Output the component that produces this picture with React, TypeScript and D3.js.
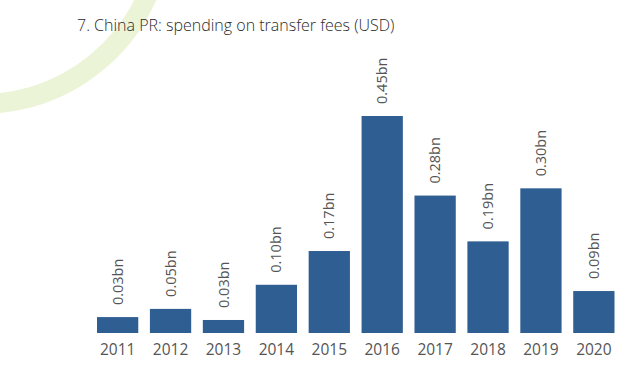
import React, { useRef, useEffect } from 'react';
import * as d3 from 'd3';

const years = ['2011', '2012', '2013', '2014', '2015', '2016', '2017', '2018', '2019', '2020'];
const values = [0.033, 0.05, 0.027, 0.10, 0.17, 0.45, 0.285, 0.19, 0.30, 0.087];
const labels = ['0.03bn', '0.05bn', '0.03bn', '0.10bn', '0.17bn', '0.45bn', '0.28bn', '0.19bn', '0.30bn', '0.09bn'];

const title = '7. China PR: spending on transfer fees (USD)';

const App = () => {
  const chartRef = useRef(null);

  useEffect(() => {
    const width = 640;
    const height = 375;
    const fontFamily = '"Open Sans", "Noto Sans", sans-serif';

    d3.select(chartRef.current).select('svg').remove();
    const svg = d3
      .select(chartRef.current)
      .append('svg')
      .attr('width', width)
      .attr('height', height)
      .style('position', 'absolute')
      .style('left', 0)
      .style('top', 0)
      .style('background', '#ffffff');

    // pale green swoosh in the corner
    const arc = d3.arc().innerRadius(172).outerRadius(192).startAngle(0).endAngle(2 * Math.PI);
    svg
      .append('path')
      .attr('d', arc({} as any))
      .attr('transform', 'translate(-19,-78)')
      .attr('fill', '#ecf4d8');

    const data = years.map((y, i) => ({ year: y, value: values[i], label: labels[i] }));

    const xScale = d3.scaleBand().domain(years).range([97, 614.5]).paddingInner(0.22).paddingOuter(0);
    const yScale = d3.scaleLinear().domain([0, 0.45]).range([333, 116]);

    svg
      .append('text')
      .attr('x', 77)
      .attr('y', 31)
      .text(title)
      .style('font-family', fontFamily)
      .style('font-size', '16px')
      .style('font-weight', 300)
      .style('fill', '#2a2a2a');

    svg
      .selectAll('.bar')
      .data(data)
      .enter()
      .append('rect')
      .attr('class', 'bar')
      .attr('x', d => xScale(d.year))
      .attr('y', d => yScale(d.value))
      .attr('width', xScale.bandwidth())
      .attr('height', d => yScale(0) - yScale(d.value))
      .attr('fill', '#2f5e93');

    svg
      .selectAll('.value')
      .data(data)
      .enter()
      .append('text')
      .attr('class', 'value')
      .attr('transform', d => `translate(${xScale(d.year) + xScale.bandwidth() / 2},${yScale(d.value) - 12}) rotate(-90)`)
      .attr('dy', '0.35em')
      .attr('text-anchor', 'start')
      .style('font-family', fontFamily)
      .style('font-size', '14.5px')
      .style('fill', '#555')
      .text(d => d.label);

    svg
      .selectAll('.year')
      .data(data)
      .enter()
      .append('text')
      .attr('class', 'year')
      .attr('x', d => xScale(d.year) + xScale.bandwidth() / 2)
      .attr('y', 355)
      .attr('text-anchor', 'middle')
      .style('font-family', fontFamily)
      .style('font-size', '15.5px')
      .style('fill', '#555')
      .text(d => d.year);
  }, []);

  return <div ref={chartRef} className="bar-chart"></div>;
};

export default App;
